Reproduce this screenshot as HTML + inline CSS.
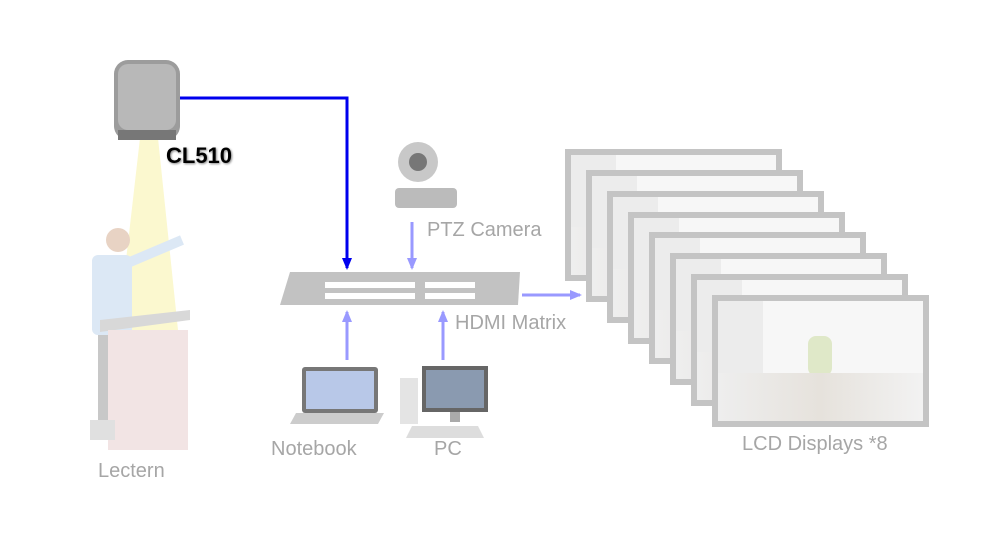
<!DOCTYPE html>
<html><head><style>
body{margin:0;background:#fff;width:1001px;height:549px;position:relative;overflow:hidden;font-family:"Liberation Sans",sans-serif}
.l{position:absolute;color:#a6a6a6;font-size:20px;white-space:nowrap}
.d{position:absolute;width:205px;height:120px;border:6px solid #c4c4c4;background:linear-gradient(90deg,#ececec 0 22%,#f7f7f7 22% 100%);box-sizing:content-box;overflow:hidden}
.d::after{content:"";position:absolute;left:0;right:0;bottom:0;height:40%;background:linear-gradient(90deg,#eee,#e6e2dc,#f2f2f2)}
</style></head><body>
<svg width="1001" height="549" style="position:absolute;left:0;top:0">
<defs>
<marker id="b" markerUnits="userSpaceOnUse" markerWidth="12" markerHeight="12" refX="10" refY="6" orient="auto"><path d="M0,1L12,6L0,11z" fill="#0000ee"/></marker>
<marker id="p" markerUnits="userSpaceOnUse" markerWidth="12" markerHeight="12" refX="10" refY="6" orient="auto"><path d="M0,1L12,6L0,11z" fill="#9999ff"/></marker>
</defs>
<polygon points="140,138 158,138 178,330 118,330" fill="#fbf8cf"/>
<rect x="114" y="60" width="66" height="80" rx="14" fill="#9c9c9c"/>
<rect x="118" y="64" width="58" height="66" rx="10" fill="#b8b8b8"/>
<rect x="118" y="130" width="58" height="10" fill="#777"/>
<polyline points="180,98 347,98 347,268" fill="none" stroke="#0000ee" stroke-width="3" marker-end="url(#b)"/>
<g stroke="#9999ff" stroke-width="3" fill="none">
<line x1="412" y1="222" x2="412" y2="268" marker-end="url(#p)"/>
<line x1="347" y1="360" x2="347" y2="312" marker-end="url(#p)"/>
<line x1="443" y1="360" x2="443" y2="312" marker-end="url(#p)"/>
<line x1="522" y1="295" x2="580" y2="295" marker-end="url(#p)"/>
</g>
<rect x="395" y="188" width="62" height="20" rx="4" fill="#bbb"/>
<circle cx="418" cy="162" r="20" fill="#c8c8c8"/><circle cx="418" cy="162" r="9" fill="#777"/>
<polygon points="290,272 520,272 518,305 280,305" fill="#c2c2c2"/>
<g fill="#fff">
<rect x="325" y="282" width="90" height="6"/><rect x="325" y="293" width="90" height="6"/>
<rect x="425" y="282" width="50" height="6"/><rect x="425" y="293" width="50" height="6"/>
</g>
<circle cx="118" cy="240" r="12" fill="#e8d3c4"/>
<rect x="92" y="255" width="40" height="80" rx="6" fill="#dce8f5"/>
<line x1="130" y1="262" x2="182" y2="240" stroke="#dce8f5" stroke-width="10"/>
<rect x="98" y="335" width="28" height="90" fill="#c8c8c8"/>
<polygon points="100,320 190,310 190,320 100,332" fill="#d8d8d8"/>
<rect x="108" y="330" width="80" height="120" fill="#f2e4e4"/>
<rect x="90" y="420" width="25" height="20" fill="#e0e0e0"/>
<rect x="302" y="367" width="76" height="46" rx="3" fill="#777"/><rect x="306" y="371" width="68" height="38" fill="#b8c8e8"/>
<polygon points="296,413 384,413 378,424 290,424" fill="#ccc"/>
<rect x="400" y="378" width="18" height="46" fill="#e4e4e4"/>
<rect x="422" y="366" width="66" height="46" fill="#666"/><rect x="426" y="370" width="58" height="38" fill="#8a9ab0"/>
<rect x="450" y="412" width="10" height="10" fill="#aaa"/>
<polygon points="412,426 478,426 484,438 406,438" fill="#ddd"/>
</svg>
<div class="l" style="left:166px;top:143px;color:#000;font-weight:bold;font-size:22px;text-shadow:1px 1px 2px #888">CL510</div>
<div class="l" style="left:427px;top:219px">PTZ Camera</div>
<div class="l" style="left:455px;top:312px">HDMI Matrix</div>
<div class="l" style="left:271px;top:438px">Notebook</div>
<div class="l" style="left:434px;top:438px">PC</div>
<div class="l" style="left:98px;top:460px">Lectern</div>
<div class="l" style="left:742px;top:433px">LCD Displays *8</div>
<div class="d" style="left:565px;top:149px"></div>
<div class="d" style="left:586px;top:170px"></div>
<div class="d" style="left:607px;top:191px"></div>
<div class="d" style="left:628px;top:212px"></div>
<div class="d" style="left:649px;top:232px"></div>
<div class="d" style="left:670px;top:253px"></div>
<div class="d" style="left:691px;top:274px"></div>
<div class="d" style="left:712px;top:295px"><div style="position:absolute;left:90px;top:35px;width:24px;height:40px;background:#dfe8c8;border-radius:8px"></div></div>
</body></html>
